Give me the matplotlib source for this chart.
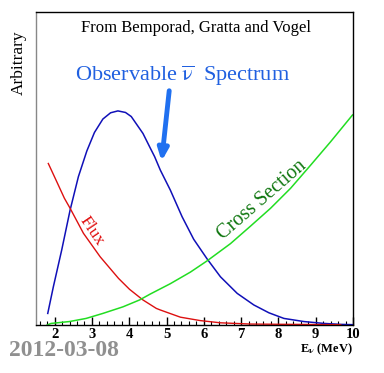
import matplotlib
matplotlib.use("Agg")
import matplotlib.pyplot as plt
from matplotlib.ticker import MultipleLocator

plt.rcParams["mathtext.fontset"] = "stix"

# Data
spec_x = [1.815, 1.965, 2.19, 2.414, 2.637, 2.863, 3.067, 3.293, 3.50, 3.696,
          3.90, 4.054, 4.368, 4.565, 4.680, 4.833, 5.102, 5.417, 5.728, 6.089, 6.446, 6.895,
          7.341, 7.745, 8.148, 8.685, 9.223, 9.672, 10.0]
spec_y = [0.037, 0.122, 0.240, 0.367, 0.474, 0.556, 0.615, 0.658, 0.678, 0.684,
          0.679, 0.666, 0.612, 0.565, 0.538, 0.495, 0.431, 0.346, 0.274, 0.211, 0.154, 0.101,
          0.064, 0.039, 0.021, 0.011, 0.005, 0.002, 0.001]

flux_x = [1.83, 2.056, 2.261, 2.414, 2.772, 3.22, 3.712, 4.008, 4.368, 4.726, 4.833,
          5.371, 5.909, 6.446, 7.253, 8.33, 9.0, 9.672]
flux_y = [0.516, 0.458, 0.405, 0.373, 0.293, 0.218, 0.149, 0.114, 0.080, 0.053, 0.048,
          0.025, 0.014, 0.007, 0.003, 0.002, 0.0015, 0.001]

cross_x = [1.80, 1.903, 2.395, 2.844, 3.293, 3.831, 4.277, 4.565, 5.102, 5.640, 6.089, 6.715,
           7.253, 7.790, 8.328, 8.866, 9.403, 9.987]
cross_y = [0.0, 0.005, 0.011, 0.021, 0.037, 0.058, 0.080, 0.099, 0.132, 0.169, 0.205, 0.260,
           0.316, 0.373, 0.437, 0.511, 0.586, 0.671]

xticks = [2, 3, 4, 5, 6, 7, 8, 9, 10]

serif = "Liberation Serif"

fig = plt.figure(figsize=(3.84, 3.73), dpi=100)
ax = fig.add_axes([36/384, 1 - 325/373, (353-36)/384, (325-12)/373])

ax.plot(spec_x, spec_y, color="#1010b8", lw=1.1)
ax.plot(flux_x, flux_y, color="#dd1010", lw=1.0)
ax.plot(cross_x, cross_y, color="#22dd22", lw=1.1)

ax.set_xlim(1.5, 10)
ax.set_ylim(0, 1)
ax.set_xticks(xticks)
ax.set_xticklabels([str(t) for t in xticks], fontfamily=serif, fontweight="bold", fontsize=10.5)
ax.xaxis.set_minor_locator(MultipleLocator(0.2))
ax.tick_params(axis="x", which="major", direction="in", length=6, width=1, pad=2)
ax.tick_params(axis="x", which="minor", direction="in", length=3, width=0.8)
ax.set_yticks([])
for s in ["top", "right", "bottom"]:
    ax.spines[s].set_color("black")
    ax.spines[s].set_linewidth(1)
ax.spines["left"].set_color("#888888")
ax.spines["left"].set_linewidth(1)

fig.text(196/384, 1 - 28/373, "From Bemporad, Gratta and Vogel", ha="center", va="center",
         fontfamily=serif, fontsize=12)
fig.text(183/384, 1 - 76/373, r"Observable $\overline{\mathrm{\nu}}$  Spectrum", ha="center", va="center",
         fontfamily=serif, fontsize=16, color="#2060e0")
fig.text(19/384, 1 - 63/373, "Arbitrary", rotation=90, ha="center", va="center",
         fontfamily=serif, fontsize=12.5)
fig.text(9/384, 1 - 351/373, "2012-03-08", ha="left", va="center",
         fontfamily=serif, fontsize=17, fontweight="bold", color="#909090")
fig.text(353/384, 1 - 349/373, r"E$_\mathbf{\nu}$ (MeV)", ha="right", va="center",
         fontfamily=serif, fontsize=9, fontweight="bold")

ax.annotate("", xy=(4.86, (325-164)/313), xytext=(5.08, (325-88)/313),
            arrowprops=dict(arrowstyle="-|>,head_length=0.7,head_width=0.3", color="#2070f0", lw=3.5))

ax.text(3.0, 0.30, "Flux", rotation=-56, ha="center", va="center",
        fontfamily=serif, fontsize=12.5, color="#e01010")
ax.text(7.56, 0.40, "Cross Section", rotation=41, ha="center", va="center",
        fontfamily=serif, fontsize=14.5, color="#117711")

fig.savefig("out.png", dpi=100)
